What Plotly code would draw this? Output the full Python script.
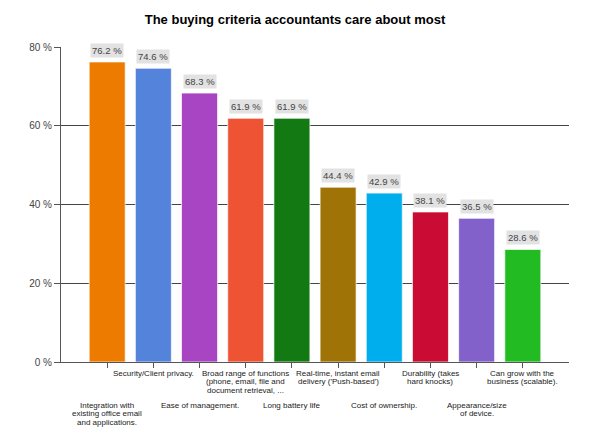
import plotly.graph_objects as go

title = "The buying criteria accountants care about most"
categories = [
    "Integration with<br>existing office email<br>and applications.",
    "Security/Client privacy.",
    "Ease of management.",
    "Broad range of functions<br>(phone, email, file and<br>document retrieval, ...",
    "Long battery life",
    "Real-time, instant email<br>delivery ('Push-based')",
    "Cost of ownership.",
    "Durability (takes<br>hard knocks)",
    "Appearance/size<br>of device.",
    "Can grow with the<br>business (scalable).",
]
values = [76.2, 74.6, 68.3, 61.9, 61.9, 44.4, 42.9, 38.1, 36.5, 28.6]
colors = ["#EC7B00", "#5383DB", "#A845C3", "#EE5334", "#137913",
          "#A07306", "#00AEEE", "#CA0B33", "#8261CB", "#22BB22"]
y_ticks = [0, 20, 40, 60, 80]
y_tick_labels = ["0 %", "20 %", "40 %", "60 %", "80 %"]

idx = list(range(len(categories)))

fig = go.Figure()
fig.add_trace(go.Bar(
    x=idx, y=values,
    marker=dict(color=colors, line=dict(color="rgba(255,255,255,0.7)", width=1)),
    hoverinfo="skip",
))

annotations = []
for i, v in zip(idx, values):
    annotations.append(dict(
        x=i, y=v, xref="x", yref="y", text=f"{v} %", showarrow=False,
        yanchor="bottom", yshift=4, bgcolor="#e2e2e2", borderpad=1,
        font=dict(size=9.5, color="#444", family="Liberation Sans, Arial"),
    ))
LINE_H = 8.5
for i, c in zip(idx, categories):
    base = -43 if i % 2 == 0 else -11
    for k, line in enumerate(c.split("<br>")):
        annotations.append(dict(
            x=i, y=0, xref="x", yref="paper", text=line, showarrow=False,
            yanchor="middle", yshift=base - k * LINE_H,
            font=dict(size=8, color="#222", family="Liberation Sans, Arial"),
            align="center",
        ))

fig.update_layout(
    width=590, height=442,
    margin=dict(l=61, r=21, t=47, b=80),
    paper_bgcolor="white", plot_bgcolor="white",
    bargap=0.22,
    showlegend=False,
    title=dict(text=f"<b>{title}</b>", x=0.5, xanchor="center", y=0.955, yanchor="middle",
               font=dict(size=13, color="#000", family="Liberation Sans, Arial")),
    xaxis=dict(range=[-1, 10], tickvals=idx, ticktext=[""] * len(idx),
               ticks="outside", ticklen=5, tickcolor="#555", showline=True,
               linecolor="#555", showgrid=False, zeroline=False, fixedrange=True),
    yaxis=dict(range=[0, 80], tickvals=y_ticks, ticktext=y_tick_labels,
               ticks="outside", ticklen=6, tickcolor="#555", showline=True,
               linecolor="#555", showgrid=True, gridcolor="#444", gridwidth=1,
               zeroline=False, fixedrange=True,
               tickfont=dict(size=10, color="#444", family="Liberation Sans, Arial")),
    annotations=annotations,
)

fig.write_html("out.html", config={"displayModeBar": False},
               post_script="document.body.style.margin='0';")
